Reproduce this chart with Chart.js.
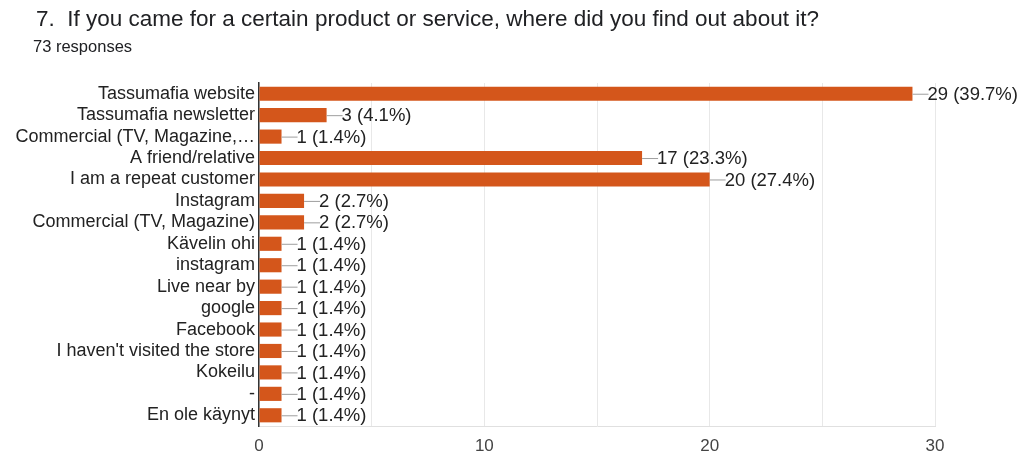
<!DOCTYPE html>
<html>
<head>
<meta charset="utf-8">
<script src="https://cdn.jsdelivr.net/npm/chart.js@4"></script>
<style>
  html, body { margin: 0; padding: 0; background: #fff; }
  #wrap { position: relative; width: 1024px; height: 455px; font-family: "Liberation Sans", Arial, sans-serif; }
  #title { position: absolute; left: 36px; top: 6px; font-size: 22.5px; color: #202124; white-space: nowrap; }
  #sub { position: absolute; left: 33px; top: 37px; font-size: 16.5px; color: #202124; }
  canvas { position: absolute; left: 0; top: 0; }
</style>
</head>
<body>
<div id="wrap">
  <canvas id="chart" width="1024" height="455"></canvas>
  <div id="title">7.&nbsp; If you came for a certain product or service, where did you find out about it?</div>
  <div id="sub">73 responses</div>
</div>
<script>
const categories = [
  "Tassumafia website",
  "Tassumafia newsletter",
  "Commercial (TV, Magazine,…",
  "A friend/relative",
  "I am a repeat customer",
  "Instagram",
  "Commercial (TV, Magazine)",
  "Kävelin ohi",
  "instagram",
  "Live near by",
  "google",
  "Facebook",
  "I haven't visited the store",
  "Kokeilu",
  "-",
  "En ole käynyt"
];
const counts = [29, 3, 1, 17, 20, 2, 2, 1, 1, 1, 1, 1, 1, 1, 1, 1];
const percents = ["39.7", "4.1", "1.4", "23.3", "27.4", "2.7", "2.7", "1.4", "1.4", "1.4", "1.4", "1.4", "1.4", "1.4", "1.4", "1.4"];
const xTicks = [0, 10, 20, 30];

const FONT = "'Liberation Sans', Arial, sans-serif";

const barLabels = {
  id: "barLabels",
  afterDatasetsDraw(chart) {
    const ctx = chart.ctx;
    const meta = chart.getDatasetMeta(0);
    ctx.save();
    ctx.font = "18.5px " + FONT;
    ctx.textBaseline = "middle";
    ctx.textAlign = "left";
    meta.data.forEach((bar, i) => {
      const x = bar.x, y = bar.y;
      ctx.strokeStyle = "#9e9e9e";
      ctx.lineWidth = 1;
      ctx.beginPath();
      ctx.moveTo(x, y + 0.5);
      ctx.lineTo(x + 16, y + 0.5);
      ctx.stroke();
      ctx.fillStyle = "#222";
      ctx.fillText(counts[i] + " (" + percents[i] + "%)", x + 15, y + 1);
    });
    ctx.restore();
  }
};

new Chart(document.getElementById("chart"), {
  type: "bar",
  data: {
    labels: categories,
    datasets: [{
      data: counts,
      backgroundColor: "#d4561b",
      borderWidth: 0,
      categoryPercentage: 1,
      barPercentage: 0.66
    }]
  },
  options: {
    indexAxis: "y",
    responsive: false,
    animation: false,
    layout: { padding: { top: 83, right: 89, left: 0, bottom: 0 } },
    plugins: { legend: { display: false }, tooltip: { enabled: false } },
    scales: {
      x: {
        min: 0,
        max: 30,
        ticks: {
          stepSize: 5,
          color: "#444",
          font: { size: 17, family: FONT },
          padding: 10,
          callback: (v) => xTicks.includes(v) ? v : ""
        },
        grid: { color: "#e8e8e8", drawTicks: false },
        border: { color: "#e0e0e0" },
        afterFit(s) { s.height = 29; }
      },
      y: {
        ticks: {
          color: "#222",
          font: { size: 18, family: FONT },
          padding: 4,
          autoSkip: false
        },
        grid: { display: false, drawTicks: false },
        border: { color: "#333", width: 1.5 },
        afterFit(s) { s.width = 259; }
      }
    }
  },
  plugins: [barLabels]
});
</script>
</body>
</html>
